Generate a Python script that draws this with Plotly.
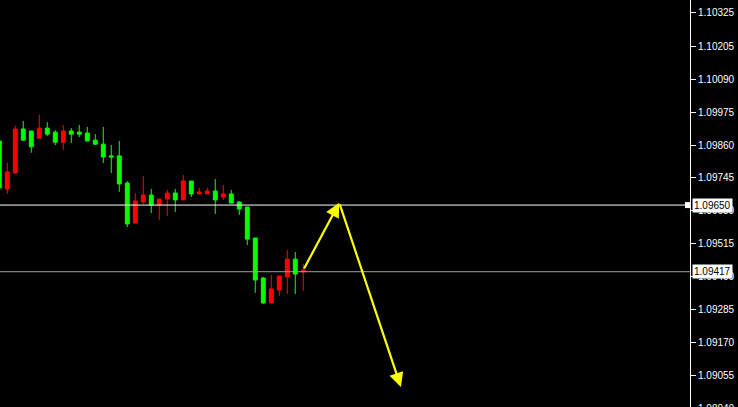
import plotly.graph_objects as go

# EURUSD-style intraday candles (bar index on x)
bar = list(range(39))
opens = [1.09874, 1.09706, 1.09762, 1.09916, 1.09909, 1.09884, 1.09919, 1.09905,
         1.09870, 1.09909, 1.09905, 1.09902, 1.09877, 1.09863, 1.09822, 1.09822,
         1.09727, 1.09587, 1.09661, 1.09685, 1.09650, 1.09671, 1.09692, 1.09668,
         1.09734, 1.09689, 1.09689, 1.09699, 1.09678, 1.09689, 1.09661, 1.09643,
         1.09535, 1.09395, 1.09308, 1.09353, 1.09399, 1.09461, 1.09416]
highs = [1.09884, 1.09798, 1.09928, 1.09944, 1.09909, 1.09966, 1.09940, 1.09912,
         1.09930, 1.09919, 1.09930, 1.09923, 1.09898, 1.09923, 1.09860, 1.09874,
         1.09734, 1.09692, 1.09752, 1.09706, 1.09671, 1.09703, 1.09706, 1.09755,
         1.09734, 1.09710, 1.09710, 1.09741, 1.09720, 1.09703, 1.09664, 1.09643,
         1.09535, 1.09399, 1.09406, 1.09402, 1.09493, 1.09486, 1.09444]
lows = [1.09703, 1.09689, 1.09762, 1.09874, 1.09833, 1.09884, 1.09891, 1.09860,
        1.09843, 1.09867, 1.09888, 1.09874, 1.09860, 1.09797, 1.09762, 1.09696,
        1.09573, 1.09587, 1.09654, 1.09622, 1.09598, 1.09612, 1.09626, 1.09668,
        1.09678, 1.09689, 1.09689, 1.09619, 1.09668, 1.09657, 1.09615, 1.09510,
        1.09343, 1.09304, 1.09308, 1.09332, 1.09339, 1.09339, 1.09350]
closes = [1.09710, 1.09766, 1.09916, 1.09877, 1.09854, 1.09919, 1.09898, 1.09870,
          1.09909, 1.09898, 1.09898, 1.09874, 1.09863, 1.09818, 1.09818, 1.09724,
          1.09584, 1.09664, 1.09685, 1.09650, 1.09671, 1.09692, 1.09668, 1.09734,
          1.09689, 1.09696, 1.09699, 1.09668, 1.09689, 1.09657, 1.09636, 1.09531,
          1.09388, 1.09308, 1.09357, 1.09402, 1.09461, 1.09409, 1.09423]

# price scale labels
tick_vals = [1.10325, 1.10205, 1.10090, 1.09975, 1.09860, 1.09745, 1.09630,
             1.09515, 1.09400, 1.09285, 1.09170, 1.09055]
tick_text = ["%.5f" % v for v in tick_vals]
bottom_label = 1.08940   # sits just below the visible range, half cut off

# horizontal levels
level_hi = 1.09650
level_lo = 1.09417

# projected path: (bar, price) points
path_x = [38, 42.5, 50.2]
path_y = [1.09423, 1.09658, 1.09014]

y_range = [1.08944, 1.10367]

fig = go.Figure()

fig.add_trace(go.Candlestick(
    x=bar, open=opens, high=highs, low=lows, close=closes,
    increasing=dict(line=dict(color="#ff0000", width=1), fillcolor="#ff0000"),
    decreasing=dict(line=dict(color="#00ff00", width=1), fillcolor="#00ff00"),
    hoverinfo="none", showlegend=False
))

# levels
fig.add_shape(type="line", xref="paper", x0=0, x1=1, y0=level_hi, y1=level_hi,
              line=dict(color="white", width=1))
fig.add_shape(type="line", xref="paper", x0=0, x1=1, y0=level_lo, y1=level_lo,
              line=dict(color="#a0a0a0", width=1))
fig.add_shape(type="rect", xref="paper", xsizemode="pixel", xanchor=1, x0=-5, x1=0,
              ysizemode="pixel", yanchor=level_hi, y0=-3, y1=3,
              fillcolor="white", line=dict(width=0))

for lvl in [level_hi, level_lo]:
    fig.add_annotation(xref="paper", x=1, xanchor="left", xshift=2,
                       y=lvl, yanchor="middle", text="%.5f" % lvl, showarrow=False,
                       bgcolor="white", borderpad=1,
                       font=dict(family="Liberation Sans", size=10, color="black"))

# arrows
for i in range(len(path_x) - 1):
    fig.add_annotation(x=path_x[i + 1], y=path_y[i + 1], ax=path_x[i], ay=path_y[i],
                       xref="x", yref="y", axref="x", ayref="y", text="",
                       showarrow=True, arrowhead=2, arrowsize=1.3, arrowwidth=2.2,
                       arrowcolor="#ffff00")

# half-cut bottom label (paper coords so it isn't dropped outside the range)
fig.add_annotation(xref="paper", x=1, xanchor="left", xshift=6,
                   yref="paper",
                   y=(bottom_label - y_range[0]) / (y_range[1] - y_range[0]),
                   yanchor="middle", text="%.5f" % bottom_label, showarrow=False,
                   font=dict(family="Liberation Sans", size=10, color="white"))

fig.update_layout(
    width=738, height=407,
    margin=dict(l=0, r=48, t=0, b=0),
    paper_bgcolor="black", plot_bgcolor="black",
    xaxis=dict(range=[0.09, 86.34], visible=False, rangeslider=dict(visible=False),
               fixedrange=True),
    yaxis=dict(range=y_range, side="right", showgrid=False, zeroline=False,
               showline=True, linecolor="white", linewidth=1,
               ticks="outside", ticklen=5, tickcolor="white",
               tickvals=tick_vals, ticktext=tick_text, fixedrange=True,
               tickfont=dict(family="Liberation Sans", size=10, color="white")),
)

fig.write_html("out.html", config={"displayModeBar": False},
               post_script="document.body.style.margin='0';")
